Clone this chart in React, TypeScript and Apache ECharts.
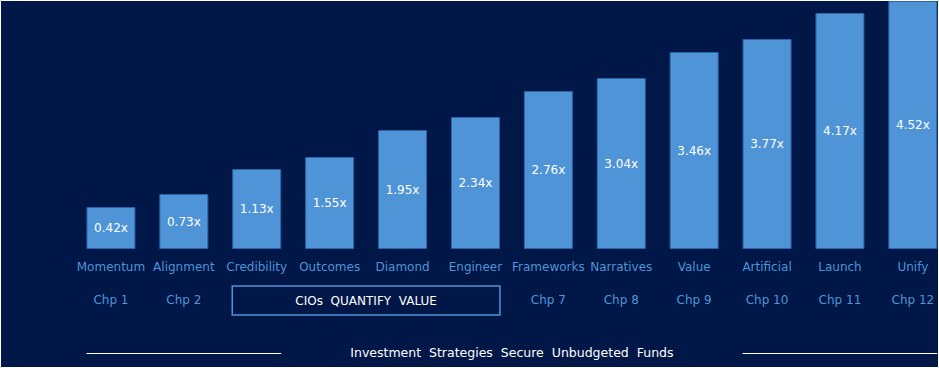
import React, { useEffect, useRef } from "react";
import * as echarts from "echarts";

const categories = ["Momentum", "Alignment", "Credibility", "Outcomes", "Diamond", "Engineer", "Frameworks", "Narratives", "Value", "Artificial", "Launch", "Unify"];
const multiples = [0.42, 0.73, 1.13, 1.55, 1.95, 2.34, 2.76, 3.04, 3.46, 3.77, 4.17, 4.52];
// visual bar heights as drawn in the infographic (staircase)
const barHeights = [42, 55, 80, 92, 119, 132, 158, 171, 197, 210, 236, 248];
const chapters = ["Chp 1", "Chp 2", "", "", "", "", "Chp 7", "Chp 8", "Chp 9", "Chp 10", "Chp 11", "Chp 12"];
const boxLabel = "CIOs  QUANTIFY  VALUE";
const boxRange = [2, 5];
const footer = "Investment  Strategies  Secure  Unbudgeted  Funds";
const footerLines = [[0, 2], [9, 11]];

const BG = "#001747";
const BAR = "#4F94D7";
const BAR_BORDER = "#2B65A9";
const FONT = "DejaVu Sans";
const BAR_W = 49;

export default function App() {
  const ref = useRef<HTMLDivElement>(null);
  useEffect(() => {
    if (!ref.current) return;
    const chart = echarts.init(ref.current, null, { renderer: "svg" });
    chart.setOption({
      animation: false,
      backgroundColor: BG,
      grid: { left: 74.5, top: 1, width: 874.8, height: 248, containLabel: false, outerBoundsMode: "none" },
      xAxis: [
        {
          type: "category",
          data: categories,
          axisLine: { show: false },
          axisTick: { show: false },
          axisLabel: { color: BAR, fontFamily: FONT, fontSize: 12, margin: 12, interval: 0 },
        },
        {
          type: "category",
          data: chapters,
          position: "bottom",
          offset: 40,
          axisLine: { show: false },
          axisTick: { show: false },
          axisLabel: { color: BAR, fontFamily: FONT, fontSize: 12, margin: 5, interval: 0 },
        },
      ],
      yAxis: { type: "value", min: 0, max: 248, show: false, splitLine: { show: false } },
      series: [
        {
          type: "bar",
          data: barHeights,
          barWidth: BAR_W,
          itemStyle: { color: BAR, borderColor: BAR_BORDER, borderWidth: 1 },
          label: {
            show: true,
            position: "inside",
            color: "#ffffff",
            fontFamily: FONT,
            fontSize: 12,
            formatter: (p: any) => multiples[p.dataIndex].toFixed(2) + "x",
          },
        },
      ],
    });
    const px = (i: number) => chart.convertToPixel({ xAxisIndex: 0 }, i) as number;
    const half = BAR_W / 2;
    const bx0 = px(boxRange[0]) - half;
    const bx1 = px(boxRange[1]) + half;
    const mid = (px(5) + px(6)) / 2;
    const graphic: any[] = [
      {
        type: "rect",
        shape: { x: bx0, y: 286, width: bx1 - bx0, height: 29 },
        style: { fill: "none", stroke: BAR, lineWidth: 1.5 },
      },
      {
        type: "text",
        x: (bx0 + bx1) / 2,
        y: 300.5,
        style: { text: boxLabel, fill: "#ffffff", font: `12px "${FONT}"`, align: "center", verticalAlign: "middle" },
      },
      {
        type: "text",
        x: mid,
        y: 352,
        style: { text: footer, fill: "#ffffff", font: `12.5px "${FONT}"`, align: "center", verticalAlign: "middle" },
      },
      {
        type: "rect",
        shape: { x: 0.5, y: 0.5, width: 938, height: 367 },
        style: { fill: "none", stroke: "#ffffff", lineWidth: 1 },
        z: 100,
      },
    ];
    footerLines.forEach(([a, b]) => {
      graphic.push({
        type: "line",
        shape: { x1: px(a) - half, y1: 353.5, x2: px(b) + half, y2: 353.5 },
        style: { stroke: "#ffffff", lineWidth: 1 },
      });
    });
    chart.setOption({ graphic });
    return () => chart.dispose();
  }, []);
  return <div ref={ref} style={{ position: "fixed", left: 0, top: 0, width: 939, height: 368 }} />;
}
